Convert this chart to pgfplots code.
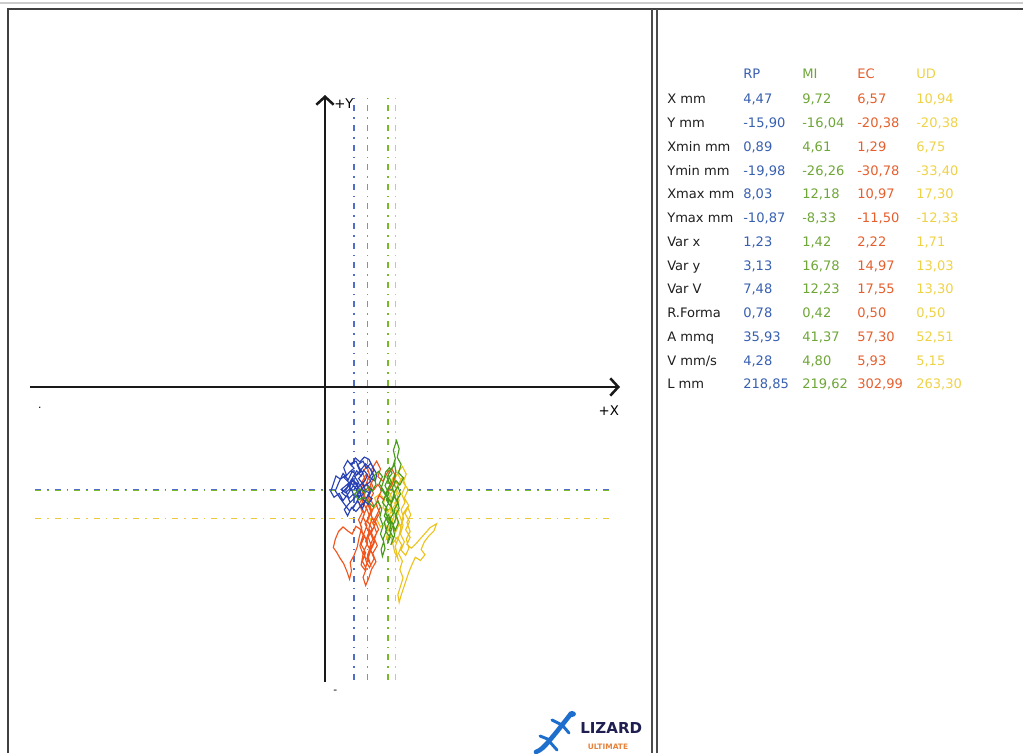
\documentclass[border=0pt]{standalone}
\usepackage{pgfplots}
\pgfplotsset{compat=1.18}
\usepackage{fontspec}
\setmainfont{DejaVu Sans}
\usetikzlibrary{arrows.meta}
\definecolor{cRP}{RGB}{40,65,180}
\definecolor{cMI}{RGB}{70,155,25}
\definecolor{cEC}{RGB}{240,85,30}
\definecolor{cUD}{RGB}{236,195,30}
\definecolor{dRP}{RGB}{80,110,200}
\definecolor{dMI}{RGB}{120,185,40}
\definecolor{dEC}{RGB}{238,110,70}
\definecolor{dUD}{RGB}{236,200,60}
\definecolor{tRP}{RGB}{55,95,175}
\definecolor{tMI}{RGB}{110,165,55}
\definecolor{tEC}{RGB}{228,95,45}
\definecolor{tUD}{RGB}{238,210,70}
\definecolor{lab}{RGB}{30,30,30}
\definecolor{gecko}{RGB}{30,110,205}
\definecolor{lznavy}{RGB}{30,30,80}
\definecolor{lzorange}{RGB}{230,130,60}
\newcommand{\trow}[6]{%
  \node[anchor=base west,inner sep=0pt,text=lab] at (667,{753-#1}) {#2};
  \node[anchor=base west,inner sep=0pt,text=tRP] at (743,{753-#1}) {#3};
  \node[anchor=base west,inner sep=0pt,text=tMI] at (802,{753-#1}) {#4};
  \node[anchor=base west,inner sep=0pt,text=tEC] at (857,{753-#1}) {#5};
  \node[anchor=base west,inner sep=0pt,text=tUD] at (916,{753-#1}) {#6};
}
\pgfplotsset{meanline/.style={line width=1.2pt, dash pattern=on 4.5pt off 4.5pt on 1.2pt off 4.5pt}}
\begin{document}
\begin{tikzpicture}[x=0.75pt,y=0.75pt,font=\fontsize{9.8pt}{11pt}\selectfont]
\path[use as bounding box] (0,0) rectangle (1023,753);
% frames
\draw[black!20, line width=0.8pt] (0,750) -- (1023,750);
\draw[black!75, line width=1.8pt] (8,0) -- (8,744) -- (1023,744);
\draw[black!70, line width=1.1pt] (652,0) -- (652,744);
\draw[black!70, line width=1.1pt] (657,0) -- (657,744);

\begin{axis}[at={(22.5pt,53.25pt)}, anchor=south west, scale only axis,
  width=442.5pt, height=440.25pt,
  xmin=-45.74, xmax=45.74, ymin=-45.74, ymax=45.27,
  axis lines=middle, xtick=\empty, ytick=\empty, clip=false,
  axis line style={black!90, line width=1.9pt, -{Straight Barb[length=6pt,width=13pt,line width=1.9pt]}},
  ]
% vertical mean lines
\addplot[dRP, meanline] coordinates {(4.47,-45.4) (4.47,44.96)};
\addplot[dEC, meanline] coordinates {(6.57,-45.4) (6.57,44.96)};
\addplot[dMI, meanline] coordinates {(9.72,-45.4) (9.72,44.96)};
\addplot[dUD, meanline] coordinates {(10.94,-45.4) (10.94,44.96)};
% horizontal mean lines
\addplot[dRP, meanline] coordinates {(-44.96,-15.90) (44.5,-15.90)};
\addplot[dEC, meanline] coordinates {(-44.96,-20.38) (44.5,-20.38)};
\addplot[dMI, meanline] coordinates {(-44.96,-16.04) (44.5,-16.04)};
\addplot[dUD, meanline] coordinates {(-44.96,-20.38) (44.5,-20.38)};
% UD trace
\addplot[cUD, line width=0.85pt] coordinates {
(10.9,-20.4) (11.5,-19.2) (10.8,-18.0) (11.6,-16.9) (11.0,-15.7) (11.8,-14.5) (11.2,-13.3) (12.0,-12.33)
(12.6,-13.5) (12.1,-14.8) (12.9,-15.9) (12.3,-17.2) (13.0,-18.4) (12.4,-19.6) (13.1,-20.9) (12.5,-22.1)
(13.2,-23.3) (12.7,-24.4) (13.4,-25.0) (14.1,-24.3) (14.8,-23.5) (15.6,-22.6) (16.3,-21.8) (17.30,-21.2)
(16.9,-22.3) (16.1,-23.1) (15.4,-24.0) (14.9,-25.2) (15.5,-26.0) (14.8,-26.9) (14.0,-26.4) (13.5,-27.5)
(13.0,-28.7) (12.6,-29.9) (12.2,-31.1) (11.8,-32.3) (11.5,-33.40) (11.3,-32.2) (11.7,-30.9) (12.1,-29.6)
(11.6,-28.3) (12.0,-27.0) (11.4,-25.8) (11.9,-24.5) (11.2,-23.3) (10.6,-24.1) (10.1,-22.9) (9.5,-23.6)
(9.8,-22.2) (9.2,-21.0) (8.6,-21.7) (8.0,-20.5) (7.4,-21.2) (6.75,-20.1) (7.3,-19.0) (8.1,-18.4)
(7.7,-17.2) (8.5,-16.6) (9.2,-17.4) (9.0,-18.7) (9.7,-19.5) (10.3,-18.3) (10.0,-17.0) (10.6,-15.9)
(10.2,-14.7) (10.8,-13.6) (10.4,-14.9) (9.9,-16.2) (10.5,-17.5) (10.1,-18.9) (10.7,-20.1) (10.3,-21.4)
(10.9,-22.6) (11.4,-21.5) (11.1,-20.3)
(11.7,-21.6) (12.2,-20.4) (11.8,-19.0) (12.4,-17.9) (11.9,-16.6) (12.5,-15.3) (12.0,-14.0) (11.4,-15.0)
(11.0,-16.3) (11.5,-17.6) (10.9,-18.9) (11.6,-20.0) (12.1,-21.4) (11.7,-22.8) (12.3,-24.0) (11.8,-25.3)
(12.5,-26.1) (13.0,-25.0) (12.6,-23.6) (13.2,-22.4) (12.7,-21.0) (13.3,-19.8) (12.8,-18.6) (12.2,-19.5)
(11.5,-23.0) (10.9,-24.7) (11.3,-26.6) (10.8,-25.6) (10.4,-23.8) (9.9,-21.7) (10.5,-20.7) (10.0,-19.8)
(10.6,-18.6) (11.2,-17.8) (10.7,-16.6) (11.3,-15.2) (10.7,-14.2) (11.4,-13.2)};
% EC trace
\addplot[cEC, line width=0.85pt] coordinates {
(6.6,-20.4) (7.2,-19.1) (6.8,-17.8) (7.5,-16.5) (7.0,-15.2) (7.7,-14.0) (7.2,-12.8) (8.0,-11.5)
(8.6,-12.7) (8.2,-13.9) (9.0,-14.6) (9.6,-13.4) (10.3,-12.6) (10.97,-13.8) (10.4,-15.1) (9.7,-16.3)
(9.1,-17.5) (8.4,-16.8) (7.9,-18.2) (8.5,-19.5) (7.8,-20.8) (8.3,-22.1) (7.6,-23.4) (8.1,-24.6)
(7.4,-25.8) (7.9,-27.1) (7.2,-28.3) (6.8,-29.6) (6.3,-30.78) (5.9,-29.5) (6.4,-28.2) (5.8,-27.0)
(6.3,-25.7) (5.6,-24.4) (6.1,-23.2) (5.4,-22.0) (4.8,-21.6) (4.2,-22.8) (3.5,-22.3) (2.8,-21.7)
(2.1,-22.4) (1.6,-23.6) (1.29,-24.9) (1.8,-25.6) (2.3,-26.5) (2.9,-27.4) (3.4,-28.6) (3.8,-29.8)
(4.1,-28.5) (3.9,-27.2) (4.5,-26.1) (5.0,-24.8) (5.3,-23.3) (5.7,-21.8) (5.2,-20.6) (5.8,-19.4)
(5.3,-18.1) (6.0,-16.9) (5.6,-15.6) (6.2,-14.4) (5.8,-13.2) (6.5,-12.3) (6.9,-13.6) (6.4,-15.0)
(7.0,-16.4) (6.5,-17.9) (7.1,-19.3) (6.6,-20.8) (7.3,-22.0) (6.7,-23.3) (7.2,-24.7) (6.6,-26.0)
(7.0,-27.4) (6.5,-26.6) (6.9,-25.1) (6.3,-23.9) (6.8,-22.5) (6.2,-21.2) (6.9,-20.0) (6.4,-18.7)
(7.0,-17.3) (7.6,-18.5) (7.1,-19.8) (7.8,-21.2) (7.2,-22.6) (7.7,-24.0) (7.1,-25.3) (7.6,-26.6)
(6.9,-28.0) (6.4,-27.1) (6.0,-25.5) (6.6,-24.2) (6.0,-22.8) (6.5,-21.5) (5.9,-20.1) (6.4,-18.9)
(5.8,-17.6) (6.3,-16.2) (5.7,-14.8) (6.4,-13.5) (7.1,-14.7) (7.6,-15.9) (8.2,-15.1) (8.8,-16.0)
(8.1,-17.4) (8.6,-18.6) (8.0,-19.9) (7.4,-21.0) (8.0,-22.6) (7.4,-24.4) (6.8,-26.2) (6.2,-28.4)
(5.6,-27.6) (5.9,-25.9) (5.4,-24.6) (5.9,-23.0) (5.5,-21.3) (6.1,-19.7) (5.6,-18.3) (6.2,-17.0)
(6.8,-18.2) (7.3,-20.4) (6.8,-21.9) (7.4,-23.6) (6.9,-24.9)};
% RP trace
\addplot[cRP, line width=0.85pt] coordinates {
(4.5,-15.9) (5.2,-14.8) (4.6,-13.9) (5.5,-13.2) (5.0,-12.1) (5.9,-11.5) (6.4,-12.6) (7.1,-11.8)
(7.6,-12.9) (6.9,-14.0) (7.8,-14.6) (8.03,-13.5) (7.4,-12.4) (6.8,-11.2) (6.1,-10.87) (5.4,-11.6)
(4.7,-11.0) (4.1,-12.2) (3.5,-11.4) (2.9,-12.5) (3.3,-13.6) (2.4,-14.3) (1.7,-13.8) (1.3,-15.0)
(0.89,-16.2) (1.4,-17.1) (2.2,-16.5) (2.8,-17.6) (3.4,-16.8) (3.9,-17.9) (4.6,-17.2) (4.2,-16.1)
(3.6,-15.2) (4.4,-14.5) (5.1,-15.6) (5.8,-14.9) (6.3,-16.0) (5.6,-17.0) (6.2,-17.8) (5.4,-18.6)
(4.8,-19.3) (4.1,-18.7) (3.5,-19.98) (3.0,-19.0) (3.7,-18.1) (4.3,-17.5) (5.0,-16.7) (5.7,-15.8)
(6.5,-15.1) (7.2,-15.9) (6.6,-16.8) (7.3,-17.3) (6.7,-18.2) (5.9,-17.4) (5.3,-16.3) (4.6,-15.5)
(3.9,-14.7) (3.1,-15.4) (2.5,-15.9) (3.2,-16.4) (3.8,-15.8) (4.3,-14.0) (4.9,-13.0) (5.6,-13.8)
(6.0,-12.9) (6.6,-13.6) (6.2,-14.5) (5.5,-15.2) (4.8,-16.0)
(5.3,-17.1) (4.4,-16.6) (3.7,-17.3) (3.2,-16.0) (3.9,-15.0) (3.0,-14.1) (3.8,-13.2) (4.5,-12.6)
(3.9,-11.9) (4.8,-11.5) (5.3,-12.5) (5.9,-13.4) (5.2,-14.2) (6.1,-15.3) (6.9,-14.8) (7.5,-13.7)
(7.0,-12.7) (6.3,-11.9) (5.6,-12.8) (4.9,-13.6) (4.2,-13.1) (3.6,-14.4) (2.8,-13.4) (2.1,-14.9)
(1.6,-16.1) (2.3,-17.2) (3.1,-18.3) (3.8,-19.2) (4.5,-18.4) (5.1,-17.7) (5.8,-18.9) (6.4,-17.2)
(7.0,-16.4) (6.0,-16.1) (5.4,-15.1) (4.7,-14.8) (4.0,-15.9) (3.3,-17.0) (2.6,-16.4) (3.4,-15.6)
(4.1,-14.3) (4.9,-14.9) (5.6,-16.5) (4.9,-17.8) (4.3,-18.9)};
% MI trace
\addplot[cMI, line width=0.85pt] coordinates {
(9.7,-16.0) (10.3,-14.8) (9.8,-13.6) (10.5,-12.4) (10.9,-11.1) (10.6,-9.8) (11.1,-8.33) (11.5,-9.6)
(11.2,-10.9) (11.8,-12.0) (11.4,-13.3) (12.18,-14.1) (11.6,-15.2) (11.0,-14.5) (10.4,-15.7) (10.9,-16.9)
(10.2,-17.8) (9.6,-17.0) (9.0,-15.9) (8.4,-15.0) (8.9,-13.9) (8.3,-13.1) (7.6,-13.8) (7.9,-15.1)
(7.3,-16.2) (6.7,-15.5) (6.1,-16.4) (5.4,-15.8) (4.61,-16.6) (5.2,-17.5) (6.0,-17.1) (6.8,-17.9)
(7.5,-18.6) (8.2,-17.7) (8.8,-18.9) (8.5,-20.2) (9.0,-21.5) (8.6,-22.8) (9.1,-24.0) (8.7,-25.2)
(8.9,-26.26) (9.3,-25.0) (9.0,-23.6) (9.5,-22.3) (9.2,-21.0) (9.8,-19.8) (10.3,-20.9) (10.0,-22.2)
(10.6,-23.4) (10.2,-24.5) (10.8,-23.0) (10.5,-21.6) (11.0,-20.3) (10.7,-19.0) (11.3,-18.0) (10.8,-17.0)
(10.1,-18.4) (9.5,-17.5) (9.9,-16.5) (9.3,-15.3) (9.8,-14.2) (10.4,-13.4) (10.0,-12.5) (9.4,-13.2)
(9.1,-14.5) (8.7,-15.7) (9.4,-16.8) (8.9,-17.9) (9.6,-18.8) (9.2,-20.0) (9.9,-21.1) (9.4,-22.4)
(10.1,-23.3) (9.7,-24.3) (10.3,-22.1) (10.0,-20.6) (10.6,-19.6) (10.2,-18.2) (10.8,-16.2) (11.3,-15.4)
(11.7,-16.6) (11.2,-17.4) (11.5,-18.8) (11.0,-19.7) (11.4,-21.0) (10.9,-22.2) (10.4,-21.0) (9.7,-20.3)
(9.3,-19.1) (9.9,-17.9) (9.5,-16.3) (10.1,-15.1) (9.6,-14.0) (10.2,-12.9) (10.8,-12.0) (11.0,-13.2)
(10.6,-14.3) (10.9,-15.6)};
% axis end labels
\node[anchor=west, inner sep=0pt, font=\fontsize{10pt}{12pt}\selectfont] at (axis cs:1.4,44.0) {+Y};
\node[inner sep=0pt, font=\fontsize{10pt}{12pt}\selectfont] at (axis cs:44.0,-3.6) {+X};
\node[inner sep=0pt, font=\fontsize{8pt}{10pt}\selectfont] at (axis cs:-44.2,-3.3) {.};
\node[inner sep=0pt, font=\fontsize{8pt}{10pt}\selectfont] at (axis cs:1.6,-47.2) {-};
\end{axis}

% table
\node[anchor=base west,inner sep=0pt,text=tRP] at (743,{753-79}) {RP};
\node[anchor=base west,inner sep=0pt,text=tMI] at (802,{753-79}) {MI};
\node[anchor=base west,inner sep=0pt,text=tEC] at (857,{753-79}) {EC};
\node[anchor=base west,inner sep=0pt,text=tUD] at (916,{753-79}) {UD};
\trow{104}{X mm}{4,47}{9,72}{6,57}{10,94}
\trow{127.75}{Y mm}{-15,90}{-16,04}{-20,38}{-20,38}
\trow{151.5}{Xmin mm}{0,89}{4,61}{1,29}{6,75}
\trow{175.25}{Ymin mm}{-19,98}{-26,26}{-30,78}{-33,40}
\trow{199}{Xmax mm}{8,03}{12,18}{10,97}{17,30}
\trow{222.75}{Ymax mm}{-10,87}{-8,33}{-11,50}{-12,33}
\trow{246.5}{Var x}{1,23}{1,42}{2,22}{1,71}
\trow{270.25}{Var y}{3,13}{16,78}{14,97}{13,03}
\trow{294}{Var V}{7,48}{12,23}{17,55}{13,30}
\trow{317.75}{R.Forma}{0,78}{0,42}{0,50}{0,50}
\trow{341.5}{A mmq}{35,93}{41,37}{57,30}{52,51}
\trow{365.25}{V mm/s}{4,28}{4,80}{5,93}{5,15}
\trow{389}{L mm}{218,85}{219,62}{302,99}{263,30}

% logo
\draw[gecko, line width=3.5pt, line cap=round, line join=round]
  (570,38) .. controls (562,28) and (556,20) .. (549,12) .. controls (544,6) and (541,3) .. (536,1);
\draw[gecko, line width=2.2pt, line cap=round]
  (562,28) -- (552,33) (563,27) -- (569,20) (550,13) -- (540,17) (549,12) -- (557,3);
\fill[gecko] (572,39) ellipse (4 and 3);
\node[anchor=base west, inner sep=0pt, text=lznavy, font=\bfseries\fontsize{11.3pt}{13pt}\selectfont] at (580,{753-733}) {LIZARD};
\node[anchor=base, inner sep=0pt, text=lzorange, font=\bfseries\fontsize{5.6pt}{7pt}\selectfont] at (608,{753-749}) {ULTIMATE};
\end{tikzpicture}
\end{document}
